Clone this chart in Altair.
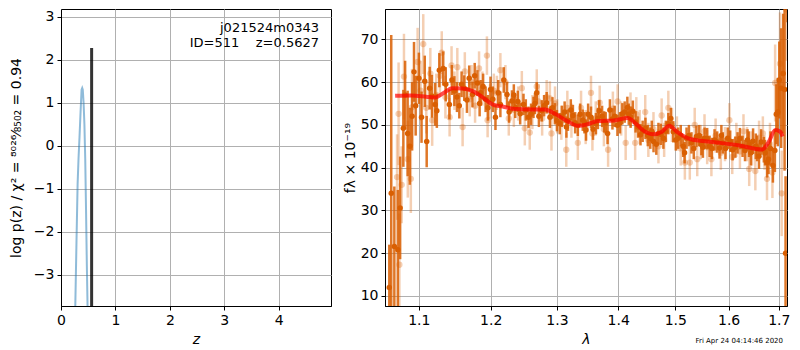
import altair as alt
import pandas as pd

# ---------------- left panel: redshift PDF ----------------
z_grid = [0.26, 0.285, 0.305, 0.322, 0.34, 0.36, 0.378, 0.39, 0.40, 0.415, 0.43, 0.445, 0.46, 0.475, 0.49]
logp = [-3.9, -2.2, -0.9, -0.3, 0.2, 0.8, 1.3, 1.34, 1.3, 1.0, 0.5, -0.3, -1.5, -2.8, -3.9]
z_best = [0.5627]
p_top = [2.27]
p_bottom = [-3.9]

# ---------------- right panel: spectrum ----------------
lam_dark = [1.0615, 1.064, 1.068, 1.0725, 1.0755, 1.0797, 1.082, 1.0853, 1.0882, 1.0912,
            1.0937, 1.0959, 1.1002, 1.1037, 1.108, 1.1106, 1.1146, 1.1177, 1.122, 1.1243,
            1.1277, 1.133, 1.1365, 1.1415, 1.145, 1.1484, 1.152, 1.1553, 1.1585, 1.1622,
            1.166, 1.1692, 1.1738, 1.177, 1.1808, 1.184, 1.1855, 1.189, 1.1926, 1.196,
            1.1997, 1.203, 1.2069, 1.211, 1.2141, 1.2191, 1.2239, 1.227, 1.2312, 1.234,
            1.2361, 1.240, 1.2435, 1.2485, 1.252, 1.2561, 1.260, 1.2637, 1.266, 1.2687,
            1.272, 1.2763, 1.280, 1.284, 1.2891, 1.293, 1.2968, 1.300, 1.3045, 1.308,
            1.3122, 1.315, 1.3175, 1.322, 1.3254, 1.329, 1.3333, 1.337, 1.3413, 1.344,
            1.3466, 1.350, 1.3547, 1.358, 1.3628, 1.366, 1.3682, 1.373, 1.3765, 1.379,
            1.3821, 1.386, 1.3903, 1.394, 1.3987, 1.403, 1.4071, 1.411, 1.4156, 1.418,
            1.4212, 1.425, 1.4297, 1.434, 1.4383, 1.442, 1.4469, 1.451, 1.4554, 1.458,
            1.4611, 1.466, 1.4698, 1.474, 1.4786, 1.483, 1.4875, 1.492, 1.4964, 1.501,
            1.5053, 1.510, 1.5144, 1.517, 1.5206, 1.525, 1.5297, 1.534, 1.5389, 1.544,
            1.5481, 1.551, 1.5542, 1.559, 1.5636, 1.568, 1.573, 1.578, 1.5825, 1.586,
            1.5888, 1.594, 1.5983, 1.603, 1.6078, 1.613, 1.6174, 1.622, 1.6272, 1.632,
            1.637, 1.640, 1.6436, 1.648, 1.6534, 1.656, 1.6598, 1.664, 1.6696, 1.672,
            1.6763, 1.679, 1.683, 1.688, 1.692, 1.695, 1.698, 1.701, 1.705, 1.709,
            1.712, 1.714, 1.718]
flux_dark = [12, 34, 21.6, 20.8, 30.6, 49.2, 57, 48, 45, 52,
             62.4, 54.5, 60.9, 51.8, 60.2, 46.1, 58.6, 56.7, 54.8, 53.3,
             62.8, 63.2, 59.5, 54.8, 60.5, 57.9, 56.5, 54.5, 59.5, 58.6,
             55.8, 60.9, 57.1, 61.5, 59.8, 55, 57.5, 59, 56, 54,
             58.3, 56, 51.8, 57.5, 54.8, 60.5, 57.1, 53, 55.6, 57,
             54.1, 55.5, 52.6, 54.8, 53.5, 51.8, 52.5, 54.1, 55, 57.5,
             52, 53.3, 54.5, 55.2, 51.8, 54, 52.6, 51, 50.3, 52,
             53, 49.5, 51.1, 53.5, 52.2, 50.5, 49.9, 52.5, 51.1, 50.5,
             48.8, 52.5, 51.8, 49, 50.3, 51.5, 53.3, 52, 50.7, 50.5,
             48, 53.5, 51.4, 52, 49.9, 50.5, 52.6, 53, 54.1, 52.5,
             51.8, 53.2, 50.7, 49.5, 47.7, 48.5, 49.2, 47.5, 46.9, 48.5,
             46.1, 45.5, 48, 47.8, 46.9, 48.5, 50.3, 51.5, 48.4, 46.5,
             46.9, 47.5, 45, 43.5, 46.9, 47.5, 45.8, 44.5, 47.3, 47.5,
             45.4, 44.8, 46.9, 46.8, 45, 44.5, 46.5, 46, 44.6, 47.5,
             45.8, 44.5, 46.9, 46.2, 44.2, 44.8, 45.8, 46.8, 45, 44,
             46.5, 45.5, 43.5, 46.2, 45, 44.5, 42.7, 46, 44.2, 43.5,
             41.2, 42, 44.5, 40.5, 44, 52.5, 53, 60.5, 58.6, 62,
             58.3, 20, 86]
err_dark = [10, 37, 14, 14, 12, 9, 8, 10, 9, 8,
            7, 7, 6, 6, 6, 6, 5, 5, 5, 4,
            4, 4, 4, 3.5, 3.5, 3.5, 3.5, 3, 3, 3,
            3, 3, 3, 3, 3, 3, 3, 3, 3, 3,
            3, 3, 3, 3, 3, 3, 3, 2.5, 2.5, 2.5,
            2.5, 2.5, 2.5, 2.5, 2.5, 2.5, 2.5, 2.5, 2.5, 2.5,
            2.5, 2.5, 2.5, 2.5, 2.5, 2.5, 2.5, 2.5, 2.5, 2.5,
            2.5, 2.5, 2.5, 2.5, 2.5, 2.5, 2.5, 2.5, 2.5, 2.5,
            2.5, 2.5, 2.5, 2.5, 2.5, 2.5, 2.5, 2.5, 2.5, 2.5,
            2.5, 2.5, 2.5, 2.5, 2.5, 2.5, 2.5, 2.5, 2.5, 2.5,
            2.5, 2.5, 2.5, 2.5, 2.5, 2.5, 2.5, 2.5, 2.5, 2.5,
            2.5, 2.5, 2.5, 2.5, 2.5, 2.5, 2.5, 2.5, 2.5, 2.5,
            2.5, 2.5, 2.5, 2.5, 2.5, 2.5, 2.5, 2.5, 2.5, 2.5,
            2.5, 2.5, 2.5, 2.5, 2.5, 2.5, 2.5, 2.5, 2.5, 2.5,
            2.5, 2.5, 2.5, 2.5, 2.5, 2.5, 2.5, 2.5, 2.5, 2.5,
            2.5, 3, 3, 3, 3, 3, 3, 3, 3, 3,
            3.5, 3.5, 4, 4, 5, 7, 8, 9, 14, 14,
            19, 18, 12]

lam_light = [1.0715, 1.0735, 1.0745, 1.0775, 1.0805, 1.0855, 1.0895, 1.091, 1.0985, 1.1025,
             1.106, 1.110, 1.1155, 1.118, 1.1235, 1.1285, 1.131, 1.136, 1.1418, 1.1445,
             1.1485, 1.1525, 1.1599, 1.163, 1.170, 1.1725, 1.1775, 1.1832, 1.188, 1.1945,
             1.1955, 1.199, 1.2045, 1.209, 1.2141, 1.2215, 1.2265, 1.234, 1.2405, 1.246,
             1.2505, 1.258, 1.262, 1.2687, 1.2715, 1.277, 1.284, 1.289, 1.2915, 1.297,
             1.3005, 1.307, 1.3148, 1.3165, 1.323, 1.3333, 1.3385, 1.346, 1.3547, 1.357,
             1.3625, 1.369, 1.376, 1.383, 1.391, 1.399, 1.405, 1.4127, 1.421, 1.429,
             1.431, 1.437, 1.4465, 1.452, 1.461, 1.4698, 1.4755, 1.480, 1.4875, 1.494,
             1.503, 1.51, 1.5175, 1.5266, 1.5357, 1.5404, 1.547, 1.554, 1.559, 1.567,
             1.575, 1.585, 1.593, 1.6015, 1.607, 1.615, 1.622, 1.629, 1.636, 1.6403,
             1.646, 1.6525, 1.660, 1.6676, 1.671, 1.676, 1.682, 1.687, 1.6925, 1.7025,
             1.706, 1.716]
flux_light = [37.8, 52.6, 17.3, 36, 61.3, 42, 37.4, 54.1, 64.7, 58,
              68.9, 54, 62, 51.1, 57, 61.5, 66.9, 56.5, 51.8, 63.9,
              58, 63.5, 49.5, 62.5, 56, 60, 54.5, 63.2, 58.5, 66.2,
              51.1, 55.5, 58, 57.5, 62.8, 60, 51.5, 53.5, 55, 58.6,
              49.2, 48.2, 53, 59, 55.5, 51.5, 56.5, 56.2, 48, 55,
              52, 50.5, 44.2, 54, 51, 45.8, 54, 49.5, 57.5, 48,
              51.5, 55.2, 49, 44.2, 53.8, 55.5, 51.5, 45.8, 53.6, 45.8,
              52.5, 49.5, 53, 46.5, 49, 45, 52.2, 46.5, 54, 50,
              48, 44.5, 41.2, 41.2, 50, 42, 46, 48.5, 44.8, 42,
              47.5, 43.5, 45.5, 51.1, 42.5, 46.5, 43.8, 48.5, 45.5, 39.7,
              44.5, 39.2, 47, 48, 43.5, 37.4, 45.5, 38.9, 59.8, 64.3,
              34, 77]
err_light = [10, 12, 12, 9, 10, 9, 8, 9, 8, 7,
             7, 6, 6, 6, 5, 5, 5, 5, 4.5, 4.5,
             4.5, 4.5, 4.5, 4.5, 4, 4, 4, 4, 4, 4.5,
             4, 4, 4, 4, 4, 4, 4, 4, 4, 4,
             4, 4, 4, 4, 4, 4, 4, 4, 4, 4,
             4, 4, 4, 4, 4, 4, 4, 4, 4, 4,
             4, 4, 4, 4, 4, 4, 4, 4, 4, 4,
             4, 4, 4, 4, 4, 4, 4, 4, 4, 4,
             4, 4, 4, 4, 4, 4, 4, 4, 4, 4,
             4, 4, 4, 4, 4, 4, 4, 4, 4, 4,
             4, 4.5, 4, 4, 4, 5, 5, 6, 9, 12,
             10, 12]

lam_model = [1.069, 1.09, 1.11, 1.122, 1.133, 1.1456, 1.16, 1.174, 1.188, 1.2025,
             1.22, 1.2366, 1.26, 1.281, 1.297, 1.315, 1.333, 1.35, 1.366, 1.393,
             1.416, 1.43, 1.444, 1.461, 1.476, 1.489, 1.503, 1.527, 1.570, 1.621,
             1.666, 1.679, 1.693, 1.703, 1.708]
flux_model = [56.8, 56.9, 56.6, 56.4, 57.4, 58.6, 58.5, 57.9, 56.5, 54.8,
              54.2, 53.7, 53.6, 53.6, 52.6, 51.0, 49.8, 50.2, 50.9, 51.05,
              51.6, 50.3, 48.6, 47.8, 48.4, 49.8, 48.4, 46.7, 46.0, 45.2,
              44.25, 45.9, 48.8, 48.4, 47.3]

pdf_df = pd.DataFrame({"z": z_grid, "logp": logp})
best_df = pd.DataFrame({"z": z_best, "top": p_top, "bottom": p_bottom})
dark_df = pd.DataFrame({"lam": lam_dark, "flux": flux_dark, "err": err_dark})
light_df = pd.DataFrame({"lam": lam_light, "flux": flux_light, "err": err_light})
model_df = pd.DataFrame({"lam": lam_model, "flux": flux_model})

FONT = "DejaVu Sans"
ORANGE = "#d95f02"
LH = 297
NB = "\u00a0"

# ---------------- left panel ----------------
zx = alt.X("z:Q", scale=alt.Scale(domain=[0, 4.96], nice=False, zero=False),
           axis=alt.Axis(values=[0, 1, 2, 3, 4], format="d", title="z",
                         titleFontStyle="italic", titlePadding=5))
zy = alt.Y("logp:Q", scale=alt.Scale(domain=[-3.73, 3.18], nice=False, zero=False),
           axis=alt.Axis(values=[-3, -2, -1, 0, 1, 2, 3], format="d",
                         title="log p(z) / χ² = ⁸⁰²⁶⁄₈₅₀₂ = 0.94", titlePadding=10))

pdf_line = alt.Chart(pdf_df).mark_line(color="#1f77b4", opacity=0.5, strokeWidth=2, clip=True).encode(
    x=zx, y=zy)
best_rule = alt.Chart(best_df).mark_rule(color="black", opacity=0.8, strokeWidth=3, clip=True).encode(
    x=alt.X("z:Q"), y=alt.Y("top:Q"), y2="bottom:Q")
label1 = alt.Chart(pd.DataFrame({"t": ["j021524m0343"]})).mark_text(
    align="right", baseline="middle", font=FONT, fontSize=13, color="black").encode(
    x=alt.value(258), y=alt.value(19), text="t:N")
label2 = alt.Chart(pd.DataFrame({"t": ["ID=511" + NB * 4 + "z=0.5627"]})).mark_text(
    align="right", baseline="middle", font=FONT, fontSize=13, color="black").encode(
    x=alt.value(258), y=alt.value(34), text="t:N")

left = alt.layer(pdf_line, best_rule, label1, label2).properties(width=270, height=LH)

# ---------------- right panel ----------------
LAM_DOMAIN = [1.0560, 1.7170]
lx = alt.X("lam:Q", scale=alt.Scale(type="log", domain=LAM_DOMAIN, nice=False, zero=False),
           axis=alt.Axis(values=[1.1, 1.2, 1.3, 1.4, 1.5, 1.6, 1.7], format=".1f", title="λ",
                         titleFontStyle="italic", titlePadding=5))
ly = alt.Y("flux:Q", scale=alt.Scale(domain=[7.66, 77.1], nice=False, zero=False),
           axis=alt.Axis(values=[10, 20, 30, 40, 50, 60, 70], format="d",
                         title="fλ × 10⁻¹⁹", titlePadding=3))

light_err = alt.Chart(light_df).transform_calculate(
    lo="datum.flux - datum.err", hi="datum.flux + datum.err").mark_rule(
    color=ORANGE, opacity=0.3, strokeWidth=2.5, clip=True).encode(
    x=lx, y=alt.Y("lo:Q", scale=alt.Scale(domain=[7.66, 77.1], nice=False, zero=False)), y2="hi:Q")
light_pts = alt.Chart(light_df).mark_circle(color=ORANGE, opacity=0.3, size=40, clip=True).encode(
    x=lx, y=ly)
dark_err = alt.Chart(dark_df).transform_calculate(
    lo="datum.flux - datum.err", hi="datum.flux + datum.err").mark_rule(
    color=ORANGE, opacity=0.85, strokeWidth=2.5, clip=True).encode(
    x=lx, y=alt.Y("lo:Q"), y2="hi:Q")
dark_pts = alt.Chart(dark_df).mark_circle(color=ORANGE, opacity=1.0, size=30, clip=True).encode(
    x=lx, y=ly)
model_line = alt.Chart(model_df).mark_line(color="red", opacity=0.7, strokeWidth=4,
                                            interpolate="monotone", clip=True).encode(x=lx, y=ly)
stamp = alt.Chart(pd.DataFrame({"t": ["Fri Apr 24 04:14:46 2020"]})).mark_text(
    align="right", baseline="middle", font=FONT, fontSize=7, color="black").encode(
    x=alt.value(398), y=alt.value(LH + 35), text="t:N")

right = alt.layer(light_err, light_pts, dark_err, dark_pts, model_line, stamp).properties(
    width=402, height=LH)

chart = alt.hconcat(left, right, spacing=10).properties(
    padding={"left": 0, "top": 0, "right": 0, "bottom": 0}
).configure(font=FONT).configure_view(
    stroke="black", strokeWidth=1
).configure_axis(
    labelFont=FONT, labelFontSize=14, labelColor="black",
    titleFont=FONT, titleFontSize=14, titleColor="black", titleFontWeight="normal",
    tickColor="black", tickSize=4, domainColor="black", domainWidth=1,
    gridColor="#b0b0b0", gridWidth=1, labelPadding=3, labelFlush=False
)

chart.save("out.html", embed_options={"renderer": "svg", "actions": False})
